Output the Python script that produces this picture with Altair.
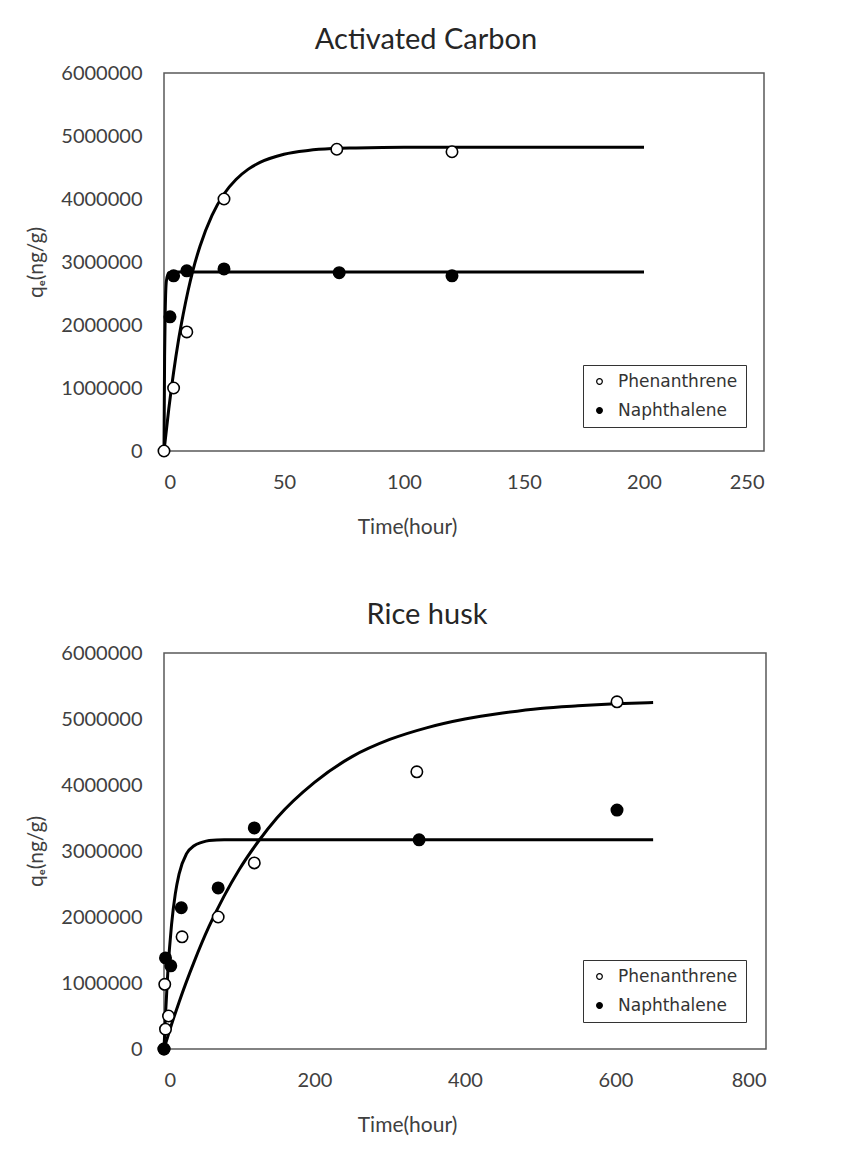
import altair as alt
import pandas as pd

# ---------------- Activated Carbon ----------------
ac_phen_t = [0, 4, 9.5, 25, 72, 120]
ac_phen_q = [0, 1000000, 1890000, 4000000, 4790000, 4750000]
ac_naph_t = [2.5, 4, 9.5, 25, 73, 120]
ac_naph_q = [2130000, 2780000, 2860000, 2890000, 2830000, 2780000]

ac_phen_fit_t = [0, 2, 4, 6, 8, 10, 12, 15, 20, 25, 30, 35, 40, 50, 60, 70, 80, 100, 200]
ac_phen_fit_q = [0, 670000, 1250000, 1750000, 2170000, 2540000, 2860000, 3250000, 3740000,
                 4080000, 4310000, 4470000, 4580000, 4710000, 4770000, 4800000, 4810000,
                 4820000, 4820000]
ac_naph_fit_t = [0, 0.25, 0.5, 1, 2, 4, 200]
ac_naph_fit_q = [0, 1500000, 2200000, 2700000, 2830000, 2840000, 2840000]

# ---------------- Rice husk ----------------
rh_phen_t = [0, 1, 2, 6, 24, 72, 120, 336, 602]
rh_phen_q = [0, 980000, 300000, 500000, 1700000, 2000000, 2820000, 4200000, 5260000]
rh_naph_t = [0, 2, 9, 23, 72, 120, 339, 602]
rh_naph_q = [0, 1380000, 1260000, 2140000, 2440000, 3350000, 3170000, 3620000]

rh_phen_fit_t = [0, 10, 20, 40, 60, 80, 100, 125, 150, 200, 250, 300, 350, 400, 450, 500,
                 550, 600, 650]
rh_phen_fit_q = [0, 370000, 710000, 1320000, 1860000, 2320000, 2720000, 3140000, 3500000,
                 4040000, 4430000, 4690000, 4870000, 5000000, 5090000, 5160000, 5200000,
                 5230000, 5250000]
rh_naph_fit_t = [0, 2, 5, 10, 15, 20, 30, 40, 50, 60, 80, 650]
rh_naph_fit_q = [0, 520000, 1150000, 1880000, 2350000, 2650000, 2960000, 3080000, 3130000,
                 3160000, 3170000, 3170000]

series_names = ["Phenanthrene", "Naphthalene"]
FONT = "Lato"


def pts(t, q, name):
    return pd.DataFrame({"t": t, "q": q, "series": name})


def panel(title, xmax, xstep, w, h, phen_t, phen_q, naph_t, naph_q,
          pf_t, pf_q, nf_t, nf_q, legend_y, title_offset):
    xs = alt.Scale(domain=[0, xmax], nice=False)
    ys = alt.Scale(domain=[0, 6000000], nice=False)
    xax = alt.Axis(values=list(range(0, xmax + 1, xstep)), format="d", grid=False,
                   domain=False, ticks=False, labelPadding=21, title="Time(hour)",
                   titlePadding=24, titleX=243, titleAlign="center")
    yax = alt.Axis(values=list(range(0, 6000001, 1000000)), format="d", grid=False,
                   domain=False, ticks=False, labelPadding=22, title="qₑ(ng/g)",
                   titlePadding=14)

    fit = pd.concat([pts(pf_t, pf_q, "Phenanthrene fit"), pts(nf_t, nf_q, "Naphthalene fit")])
    lines = alt.Chart(fit).mark_line(color="black", strokeWidth=3, interpolate="monotone").encode(
        x=alt.X("t:Q", scale=xs, axis=xax),
        y=alt.Y("q:Q", scale=ys, axis=yax),
        detail="series:N",
    )
    data = pd.concat([pts(phen_t, phen_q, "Phenanthrene"), pts(naph_t, naph_q, "Naphthalene")])
    points = alt.Chart(data).mark_point(shape="circle", size=130, stroke="black",
                                        strokeWidth=1.6, opacity=1, filled=False).encode(
        x=alt.X("t:Q", scale=xs),
        y=alt.Y("q:Q", scale=ys),
        fill=alt.Fill("series:N", scale=alt.Scale(domain=series_names, range=["white", "black"]),
                      legend=alt.Legend(title=None, orient="none", legendX=419, legendY=legend_y,
                                        direction="vertical", strokeColor="#333333",
                                        padding=8, symbolSize=32, symbolStrokeColor="black",
                                        symbolStrokeWidth=1.2, labelFont="DejaVu Sans",
                                        labelFontSize=17, labelColor="#333333",
                                        rowPadding=11, labelOffset=10, symbolType="circle")),
    )
    return alt.layer(lines, points).properties(
        width=w, height=h,
        title=alt.TitleParams(title, fontSize=29, font=FONT, fontWeight="normal",
                              color="#262626", anchor="middle", dx=-38, offset=title_offset),
    ).resolve_legend(fill="independent")


top = panel("Activated Carbon", 250, 50, 600, 378, ac_phen_t, ac_phen_q, ac_naph_t, ac_naph_q,
            ac_phen_fit_t, ac_phen_fit_q, ac_naph_fit_t, ac_naph_fit_q, 292, 8)
bottom = panel("Rice husk", 800, 200, 602, 396, rh_phen_t, rh_phen_q, rh_naph_t, rh_naph_q,
               rh_phen_fit_t, rh_phen_fit_q, rh_naph_fit_t, rh_naph_fit_q, 307, 13)

chart = alt.vconcat(top, bottom, spacing=62).resolve_legend(fill="independent").resolve_scale(
    x="independent", y="independent", fill="independent"
).properties(
    padding={"left": 17, "top": 17, "right": 5, "bottom": 5},
    background="white",
).configure_view(stroke="#595959", strokeWidth=1.5).configure_axis(
    labelFont=FONT, labelFontSize=20, labelColor="#404040",
    titleFont=FONT, titleFontSize=21, titleFontWeight="normal", titleColor="#404040",
)

chart.save("out.html", embed_options={"renderer": "svg", "actions": False})
